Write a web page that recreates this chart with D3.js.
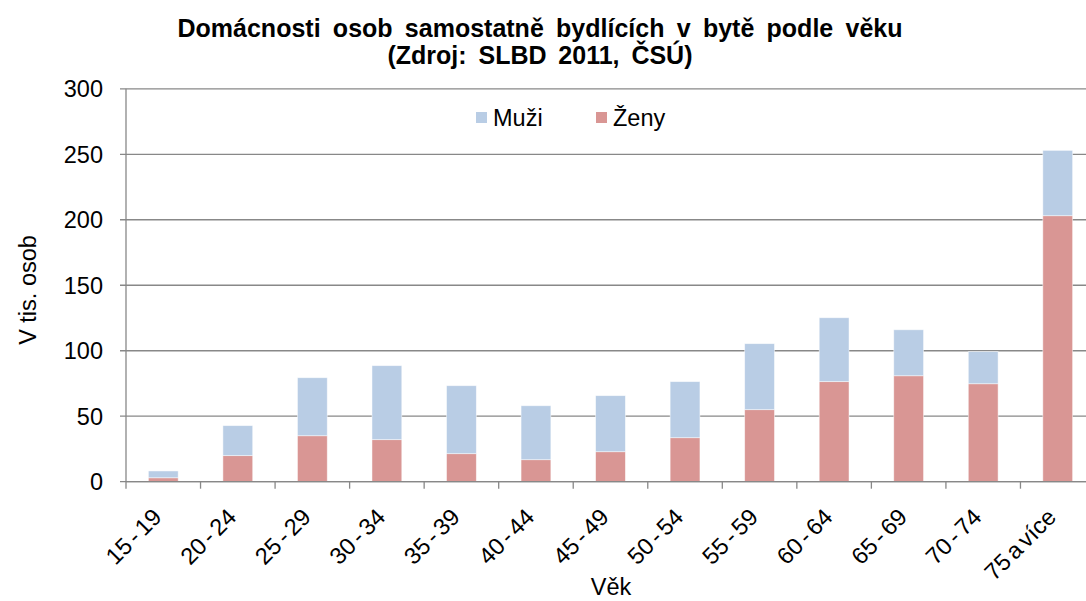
<!DOCTYPE html>
<html>
<head>
<meta charset="utf-8">
<title>Domácnosti osob samostatně bydlících</title>
<script src="https://d3js.org/d3.v7.min.js"></script>
<style>
  body { margin:0; background:#fff; overflow:hidden; }
  text { font-family: "Liberation Sans", Arial, sans-serif; fill:#000; }
  .title { font-weight: bold; font-size: 25px; }
</style>
</head>
<body>
<script>
// data (thousands of persons)
var categories = ["15 - 19","20 - 24","25 - 29","30 - 34","35 - 39","40 - 44","45 - 49",
                  "50 - 54","55 - 59","60 - 64","65 - 69","70 - 74","75 a více"];
var zeny = [3.0, 19.9, 35.1, 32.1, 21.4, 16.8, 22.9, 33.6, 55.0, 76.4, 80.9, 74.8, 203.1];
var muzi = [5.2, 22.9, 44.3, 56.5, 51.9, 41.2, 42.8, 42.8, 50.4, 48.8, 35.1, 24.5, 49.9];
var seriesNames = ["Muži", "Ženy"];
var yTicks = [0, 50, 100, 150, 200, 250, 300];

var W = 1086, H = 601;
// the plot runs a little past the right edge of the picture, as in the reference
var plotL = 126, plotR = 1095, plotT = 88.8, plotB = 481.7;

var svg = d3.select("body").append("svg")
    .attr("width", W).attr("height", H);

var x = d3.scaleBand().domain(categories).range([plotL, plotR]).padding(0);
var y = d3.scaleLinear().domain([0, 300]).range([plotB, plotT]);
var barW = x.bandwidth() * 0.40;

// gridlines
svg.append("g").selectAll("line").data(yTicks).enter().append("line")
    .attr("x1", plotL - 6).attr("x2", plotR)
    .attr("y1", function(d){ return y(d); }).attr("y2", function(d){ return y(d); })
    .attr("stroke", "#888").attr("stroke-width", 1.3);

// y axis line
svg.append("line").attr("x1", plotL).attr("x2", plotL).attr("y1", plotT).attr("y2", plotB)
    .attr("stroke", "#888").attr("stroke-width", 1.3);

// y labels
svg.append("g").selectAll("text").data(yTicks).enter().append("text")
    .attr("x", 103).attr("y", function(d){ return y(d); })
    .attr("dy", "0.36em").attr("text-anchor", "end")
    .style("font-size", "23.5px")
    .text(function(d){ return d; });

// stacked bars
var rows = categories.map(function(c, i){ return {cat: c, zeny: zeny[i], muzi: muzi[i]}; });
var stack = d3.stack().keys(["zeny", "muzi"])(rows);
var colors = {zeny: "#D99694", muzi: "#B9CDE5"};

svg.append("g").selectAll("g").data(stack).enter().append("g")
    .attr("fill", function(s){ return colors[s.key]; })
  .selectAll("rect").data(function(s){ return s; }).enter().append("rect")
    .attr("x", function(d){ return x(d.data.cat) + (x.bandwidth() - barW) / 2; })
    .attr("width", barW)
    .attr("y", function(d){ return y(d[1]); })
    .attr("height", function(d){ return y(d[0]) - y(d[1]); })
    .attr("stroke", "rgba(255,255,255,0.6)").attr("stroke-width", 0.8);

// x axis line and ticks at category boundaries
svg.append("line").attr("x1", plotL).attr("x2", plotR).attr("y1", plotB).attr("y2", plotB)
    .attr("stroke", "#888").attr("stroke-width", 1.3);
var bounds = categories.map(function(c){ return x(c); }).concat([plotR]);
svg.append("g").selectAll("line").data(bounds).enter().append("line")
    .attr("x1", function(d){ return d; }).attr("x2", function(d){ return d; })
    .attr("y1", plotB).attr("y2", plotB + 7)
    .attr("stroke", "#888").attr("stroke-width", 1.3);

// x labels rotated
svg.append("g").selectAll("text").data(categories).enter().append("text")
    .attr("transform", function(d){
        return "translate(" + (x(d) + x.bandwidth() / 2 - 6) + "," + (plotB + 31) + ") rotate(-45)";
    })
    .attr("text-anchor", "end")
    .attr("dy", "0.35em")
    .style("font-size", "23.5px")
    .style("word-spacing", "-3px")
    .text(function(d){ return d; });

// title, spaced out to the reference widths
var titleLines = [
    {t: "Domácnosti osob samostatně bydlících v bytě podle věku", y: 37, w: 725},
    {t: "(Zdroj: SLBD 2011, ČSÚ)", y: 64, w: 305}
];
titleLines.forEach(function(l){
    var t = svg.append("text").attr("class", "title")
        .attr("x", 540).attr("y", l.y).attr("text-anchor", "middle").text(l.t);
    var len = t.node().getComputedTextLength();
    var spaces = l.t.split(" ").length - 1;
    t.style("word-spacing", Math.max(0, (l.w - len) / spaces) + "px");
});

// axis titles
svg.append("text").attr("transform", "translate(36,290) rotate(-90)")
    .attr("text-anchor", "middle").style("font-size", "23.5px").text("V tis. osob");
svg.append("text").attr("x", 611).attr("y", 595).attr("text-anchor", "middle")
    .style("font-size", "23.5px").text("Věk");

// legend
var legX = [476, 596];
var legend = svg.append("g").selectAll("g").data(seriesNames).enter().append("g")
    .attr("transform", function(d, i){ return "translate(" + legX[i] + ",112)"; });
legend.append("rect").attr("width", 11).attr("height", 11)
    .attr("fill", function(d, i){ return i === 0 ? colors.muzi : colors.zeny; });
legend.append("text").attr("x", 17).attr("y", 14)
    .style("font-size", "23.5px").text(function(d){ return d; });
</script>
</body>
</html>
